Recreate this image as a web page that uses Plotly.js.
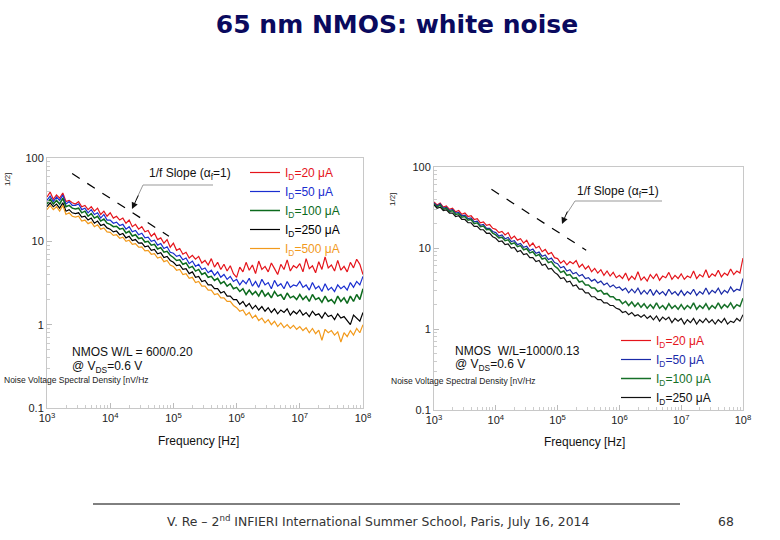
<!DOCTYPE html>
<html><head><meta charset="utf-8">
<script src="https://cdn.plot.ly/plotly-3.0.1.min.js"></script>
<style>html,body{margin:0;padding:0;background:#fff}#c{width:780px;height:540px}</style>
</head><body><div id="c"></div>
<script>
// frequency grid: 20 points per decade, 1 kHz .. 100 MHz
const mantissa = [1,1.122,1.259,1.413,1.585,1.778,1.995,2.239,2.512,2.818,3.162,3.548,3.981,4.467,5.012,5.623,6.310,7.079,7.943,8.913];
const decades = [1e3,1e4,1e5,1e6,1e7];
const freq = decades.flatMap(d=>mantissa.map(m=>m*d)).concat([1e8]);

// Left panel: W/L = 600/0.20  (nV/sqrt(Hz))
const left20 = [34,39,32,36,33,38,30,31,29,28, 30,26,27,24,26,23,25,21,23,20,
 22,19,20,18,19,16.5,18,15,16,14, 15,13,13.5,11.5,12.5,10.5,11,9.5,10.5,8.5,
 9.5,7.8,8.2,7.0,7.4,6.3,6.8,6.1,6.6,5.5, 5.9,5.2,6.2,4.9,5.6,4.6,5.3,4.4,5.1,4.1,
 3.7,4.9,4.3,5.6,4.5,5.2,4.1,5.8,4.6,5.0, 4.3,5.5,4.7,4.0,5.3,4.6,6.0,4.4,5.1,4.8,
 5.4,4.3,6.2,4.7,5.1,4.2,5.7,4.6,6.5,4.8, 5.2,4.4,5.9,4.5,5.0,4.3,5.6,4.8,6.1,5.3, 4.0];
const left50 = [31,35,30,34,31,36,28,30,27,27, 28,24,25,22,24,21,22,19,21,18,
 18,16.5,17,15.5,16,14,15,13,13.5,12, 12.5,11,11.2,10,10.3,9,9.4,8.2,8.6,7.4,
 7.2,6.6,6.8,6.0,6.3,5.4,5.8,5.0,5.3,4.6, 4.8,4.2,4.5,3.9,4.3,3.7,4.0,3.5,3.8,3.3,
 3.5,3.0,3.4,3.1,3.6,2.9,3.3,2.8,3.5,3.0, 3.2,2.7,3.4,2.9,3.1,2.7,3.3,2.8,3.0,2.9,
 3.3,2.8,3.0,2.6,3.2,2.7,2.9,2.5,3.1,2.6, 2.8,2.5,3.0,2.7,2.9,2.6,3.2,2.8,3.3,3.0, 3.8];
const left100 = [28,32,28,31,28,33,26,27,25,24.5, 25,22,23,20,21.5,19,20,17.5,18.5,16.5,
 16,15,15.2,14,14.3,12.6,13.2,11.6,12,10.8, 11,9.8,10,9,9.2,8.1,8.4,7.4,7.6,6.8,
 6.4,5.9,6.0,5.3,5.5,4.8,5.0,4.4,4.6,4.0, 4.2,3.7,3.8,3.4,3.6,3.1,3.3,2.9,3.1,2.7,
 2.8,2.5,2.7,2.3,2.6,2.3,2.5,2.2,2.6,2.2, 2.4,2.1,2.5,2.2,2.3,2.0,2.4,2.1,2.2,2.0,
 2.3,2.0,2.2,1.9,2.3,2.0,2.1,1.85,2.2,1.9, 2.0,1.8,2.2,1.9,2.1,1.8,2.2,1.9,2.3,2.0, 2.7];
const left250 = [26,29,26,28,25,29,23,24,22,21.5, 22,19.5,20,18,19,16.5,17.5,15.5,16,14.5,
 14,13,13.3,12,12.4,11,11.5,10.2,10.5,9.5, 9.6,8.6,8.8,7.8,8,7.1,7.3,6.4,6.6,5.9,
 5.6,5.1,5.2,4.6,4.7,4.1,4.3,3.7,3.8,3.3, 3.4,3.0,3.0,2.7,2.7,2.4,2.5,2.2,2.2,2.0,
 2.0,1.75,1.9,1.65,1.8,1.55,1.7,1.5,1.65,1.45, 1.6,1.4,1.55,1.35,1.5,1.4,1.55,1.3,1.45,1.35,
 1.5,1.3,1.4,1.25,1.45,1.3,1.35,1.2,1.4,1.25, 1.3,1.15,1.35,1.2,1.25,1.1,1.0,1.3,1.2,1.1, 1.4];
const left500 = [24,27,24,26,23,27,21,22,20,19.5, 20,17.5,18,16.3,17,15,15.8,14,14.5,13,
 12.8,11.8,12,10.9,11.2,10,10.3,9.2,9.4,8.5, 8.6,7.7,7.8,7,7.1,6.3,6.5,5.7,5.9,5.2,
 5.0,4.5,4.6,4.0,4.1,3.6,3.7,3.2,3.3,2.9, 2.9,2.6,2.6,2.3,2.35,2.1,2.1,1.9,1.9,1.7,
 1.6,1.45,1.5,1.3,1.4,1.2,1.3,1.12,1.2,1.05, 1.15,1.0,1.1,0.95,1.05,0.92,1.0,0.9,0.98,0.88,
 0.95,0.85,0.92,0.8,0.9,0.78,0.86,0.65,0.88,0.8, 0.85,0.75,0.82,0.62,0.8,0.72,0.85,0.75,0.9,0.8, 1.0];

// Right panel: W/L = 1000/0.13
const right20 = [37,34,36,32,33,30,31,28,29,26, 27,24.5,25,22.5,23,20.5,21,19,19.5,17.5,
 17,15.5,16,14.5,15.5,13,14,12.5,13,11.5, 12.5,10.5,11.5,10,10.5,9,9.6,8.4,8.8,7.6,
 7.4,6.5,7.0,6.2,6.8,6.4,7.0,5.8,6.3,5.5, 6.0,5.1,5.6,4.9,5.4,4.6,5.2,4.5,5.0,4.3,
 4.6,4.2,4.9,4.0,4.5,4.1,5.1,4.0,4.4,3.9, 4.7,4.2,4.8,4.0,4.5,4.3,5.0,4.1,4.6,4.2,
 4.8,4.1,4.5,4.3,5.2,4.2,4.7,4.4,5.4,4.3, 4.8,4.5,5.3,4.4,4.9,4.6,5.5,4.7,5.2,4.9, 7.5];
const right50 = [36,33,35,31,32,29,30,27,27.5,25, 25.5,23,23.5,21,21.5,19,19.5,17.5,17.5,16,
 15.5,14,14.5,13,13.5,12,12.3,11,11.4,10.2, 10.5,9.3,9.7,8.6,8.9,7.9,8.2,7.2,7.5,6.6,
 6.4,5.7,5.9,5.2,5.4,4.8,5.0,4.5,4.7,4.2, 4.3,3.9,4.1,3.7,3.9,3.5,3.7,3.3,3.5,3.2,
 3.3,3.0,3.2,2.8,3.1,2.8,3.2,2.7,3.0,2.7, 3.1,2.6,3.0,2.7,2.9,2.6,3.1,2.7,2.9,2.6,
 3.0,2.6,2.9,2.7,3.1,2.6,2.9,2.7,3.2,2.7, 3.0,2.8,3.2,2.7,3.0,2.8,3.3,2.9,3.1,3.0, 4.2];
const right100 = [35,32,34,30,31,28,29,26,26.5,24, 24.5,22,22.5,20,20.5,18.3,18.7,16.8,17,15.2,
 14.5,13.3,13.6,12.3,12.6,11.2,11.6,10.4,10.7,9.5, 9.8,8.7,9,8,8.3,7.3,7.5,6.6,6.8,6.0,
 5.6,5.0,5.2,4.6,4.7,4.2,4.3,3.8,3.9,3.5, 3.5,3.2,3.2,2.9,3.0,2.7,2.75,2.5,2.5,2.3,
 2.3,2.05,2.2,1.95,2.15,1.9,2.1,1.85,2.05,1.8, 2.0,1.8,2.1,1.8,1.95,1.75,2.05,1.8,1.95,1.75,
 2.0,1.75,1.95,1.8,2.1,1.75,1.95,1.8,2.05,1.75, 1.95,1.8,2.1,1.8,2.0,1.85,2.1,1.8,2.0,1.9, 2.4];
const right250 = [34,31,32,29,29.5,27,27,24.5,25,22.5, 22.5,20.5,20.5,18.5,18.5,16.8,16.8,15.2,15.3,13.8,
 13.2,12,12.2,11,11.2,10,10.2,9,9.3,8.3, 8.5,7.6,7.6,6.8,7,6.1,6.3,5.5,5.6,5.0,
 4.7,4.2,4.3,3.8,3.9,3.4,3.5,3.1,3.1,2.8, 2.8,2.5,2.5,2.3,2.3,2.1,2.1,1.95,1.95,1.8,
 1.75,1.6,1.65,1.5,1.6,1.45,1.5,1.4,1.5,1.35, 1.45,1.3,1.45,1.25,1.4,1.3,1.4,1.2,1.35,1.25,
 1.35,1.15,1.3,1.2,1.35,1.15,1.3,1.2,1.35,1.2, 1.3,1.15,1.3,1.2,1.35,1.15,1.25,1.2,1.35,1.25, 1.5];

// 1/f slope guide lines
const slopeLeftX = [2500, 85000], slopeLeftY = [65, 11.5];
const slopeRightX = [8500, 290000], slopeRightY = [53, 9.4];

const xTickVals = [1e3,1e4,1e5,1e6,1e7,1e8];
const xTickText = ['10<sup>3</sup>','10<sup>4</sup>','10<sup>5</sup>','10<sup>6</sup>','10<sup>7</sup>','10<sup>8</sup>'];
const yTickVals = [0.1,1,10,100];
const yTickText = ['0.1','1','10','100'];

const leftNames = ['I<sub>D</sub>=20 μA','I<sub>D</sub>=50 μA','I<sub>D</sub>=100 μA','I<sub>D</sub>=250 μA','I<sub>D</sub>=500 μA'];
const rightNames = ['I<sub>D</sub>=20 μA','I<sub>D</sub>=50 μA','I<sub>D</sub>=100 μA','I<sub>D</sub>=250 μA'];
const leftColors = ['#e5141b','#1a2ed0','#0b6a1c','#000000','#f29a1c'];
const rightColors = ['#e5141b','#1a2aa8','#167028','#111111'];
const leftSeries = [left20,left50,left100,left250,left500];
const rightSeries = [right20,right50,right100,right250];

const traces = [];
leftSeries.forEach((s,i)=>traces.push({x:freq,y:s,type:'scatter',mode:'lines',xaxis:'x',yaxis:'y',
  name:'<span style="color:'+leftColors[i]+'">'+leftNames[i]+'</span>',legend:'legend',
  line:{color:leftColors[i],width:i==2?1.5:1.2}}));
rightSeries.forEach((s,i)=>traces.push({x:freq,y:s,type:'scatter',mode:'lines',xaxis:'x2',yaxis:'y2',
  name:'<span style="color:'+rightColors[i]+'">'+rightNames[i]+'</span>',legend:'legend2',
  line:{color:rightColors[i],width:i==2?1.5:1.2}}));
traces.push({x:slopeLeftX,y:slopeLeftY,type:'scatter',mode:'lines',xaxis:'x',yaxis:'y',showlegend:false,line:{color:'#000',width:1.2,dash:'dash'}});
traces.push({x:slopeRightX,y:slopeRightY,type:'scatter',mode:'lines',xaxis:'x2',yaxis:'y2',showlegend:false,line:{color:'#000',width:1.2,dash:'dash'}});

const tickFont = {family:'Liberation Sans, Arial, sans-serif',size:11,color:'#222'};
function ax(domain, anchor, range, vals, text){
  return {type:'log',range:range,domain:domain,anchor:anchor,showline:true,mirror:true,linecolor:'#c8c8c8',linewidth:1,
    showgrid:false,zeroline:false,ticks:'inside',ticklen:5,tickcolor:'#bbb',tickmode:'array',tickvals:vals,ticktext:text,
    tickfont:tickFont,minor:{dtick:'D1',ticks:'inside',ticklen:3,tickcolor:'#ccc',showgrid:false}};
}
const W=780,H=540;
const px=(v)=>v/W, py=(v)=>1-v/H;
const lbl = {family:'Liberation Sans, Arial, sans-serif',size:12,color:'#111'};
const small = {family:'Liberation Sans, Arial, sans-serif',size:8.5,color:'#222'};
const ann = (x,y,text,opts)=>Object.assign({xref:'paper',yref:'paper',x:px(x),y:py(y),text:text,showarrow:false,font:lbl,xanchor:'left',yanchor:'middle'},opts||{});

const layout = {
  width:W,height:H,margin:{l:0,r:0,t:0,b:0},paper_bgcolor:'#fff',plot_bgcolor:'#fff',
  xaxis:ax([px(47),px(363)],'y',[3,8],xTickVals,xTickText),
  yaxis:ax([py(408),py(158)],'x',[-1,2],yTickVals,yTickText),
  xaxis2:ax([px(434),px(743)],'y2',[3,8],xTickVals,xTickText),
  yaxis2:ax([py(410),py(167)],'x2',[-1,2],yTickVals,yTickText),
  showlegend:true,
  legend:{x:px(245),y:py(158),xanchor:'left',yanchor:'top',bgcolor:'rgba(0,0,0,0)',font:{family:'Liberation Sans, Arial, sans-serif',size:12},tracegroupgap:0,itemwidth:30},
  legend2:{x:px(616),y:py(326),xanchor:'left',yanchor:'top',bgcolor:'rgba(0,0,0,0)',font:{family:'Liberation Sans, Arial, sans-serif',size:12},tracegroupgap:0,itemwidth:30},
  title:{text:'65 nm NMOS: white noise',x:px(397),xanchor:'center',y:py(24),yanchor:'middle',font:{family:'DejaVu Sans, sans-serif',size:25,weight:'bold',color:'#0a0a5e'}},
  shapes:[
    {type:'line',xref:'paper',yref:'paper',x0:px(93),x1:px(680),y0:py(504),y1:py(504),line:{color:'#000',width:1}},
    {type:'path',xref:'paper',yref:'paper',path:'M '+px(213)+' '+py(185)+' L '+px(143)+' '+py(185)+' L '+px(136)+' '+py(200),line:{color:'#999',width:1}},
    {type:'path',xref:'paper',yref:'paper',path:'M '+px(662)+' '+py(201)+' L '+px(575)+' '+py(201)+' L '+px(566)+' '+py(215),line:{color:'#999',width:1}}
  ],
  annotations:[
    ann(190,174,'1/f Slope (α<sub>f</sub>=1)',{xanchor:'center'}),
    {xref:'paper',yref:'paper',x:px(132),y:py(209),ax:7,ay:-15,text:'',showarrow:true,arrowhead:2,arrowsize:1.3,arrowwidth:1,arrowcolor:'#111'},
    ann(618,192,'1/f Slope (α<sub>f</sub>=1)',{xanchor:'center'}),
    {xref:'paper',yref:'paper',x:px(562),y:py(224),ax:6,ay:-14,text:'',showarrow:true,arrowhead:2,arrowsize:1.3,arrowwidth:1,arrowcolor:'#111'},
    ann(70,352,'NMOS W/L = 600/0.20'),
    ann(70,367,'@ V<sub>DS</sub>=0.6 V'),
    ann(453,351,'NMOS  W/L=1000/0.13'),
    ann(453,365,'@ V<sub>DS</sub>=0.6 V'),
    ann(2,380,'Noise Voltage Spectral Density [nV/Hz',{font:small}),
    ann(389,381,'Noise Voltage Spectral Density [nV/Hz',{font:small}),
    ann(8,180,'1/2]',{xanchor:'center',textangle:-90,font:{family:'Liberation Sans, Arial, sans-serif',size:8,color:'#222'}}),
    ann(392,200,'1/2]',{xanchor:'center',textangle:-90,font:{family:'Liberation Sans, Arial, sans-serif',size:8,color:'#222'}}),
    ann(198,441,'Frequency [Hz]',{xanchor:'center'}),
    ann(584,442,'Frequency [Hz]',{xanchor:'center'}),
    ann(378,521,'V. Re – 2<sup>nd</sup> INFIERI International Summer School, Paris, July 16, 2014',{xanchor:'center',font:{family:'DejaVu Sans, sans-serif',size:12.4,color:'#333'}}),
    ann(726,521,'68',{xanchor:'center',font:{family:'DejaVu Sans, sans-serif',size:12.4,color:'#333'}})
  ]
};
Plotly.newPlot('c',traces,layout,{staticPlot:true});
</script></body></html>
